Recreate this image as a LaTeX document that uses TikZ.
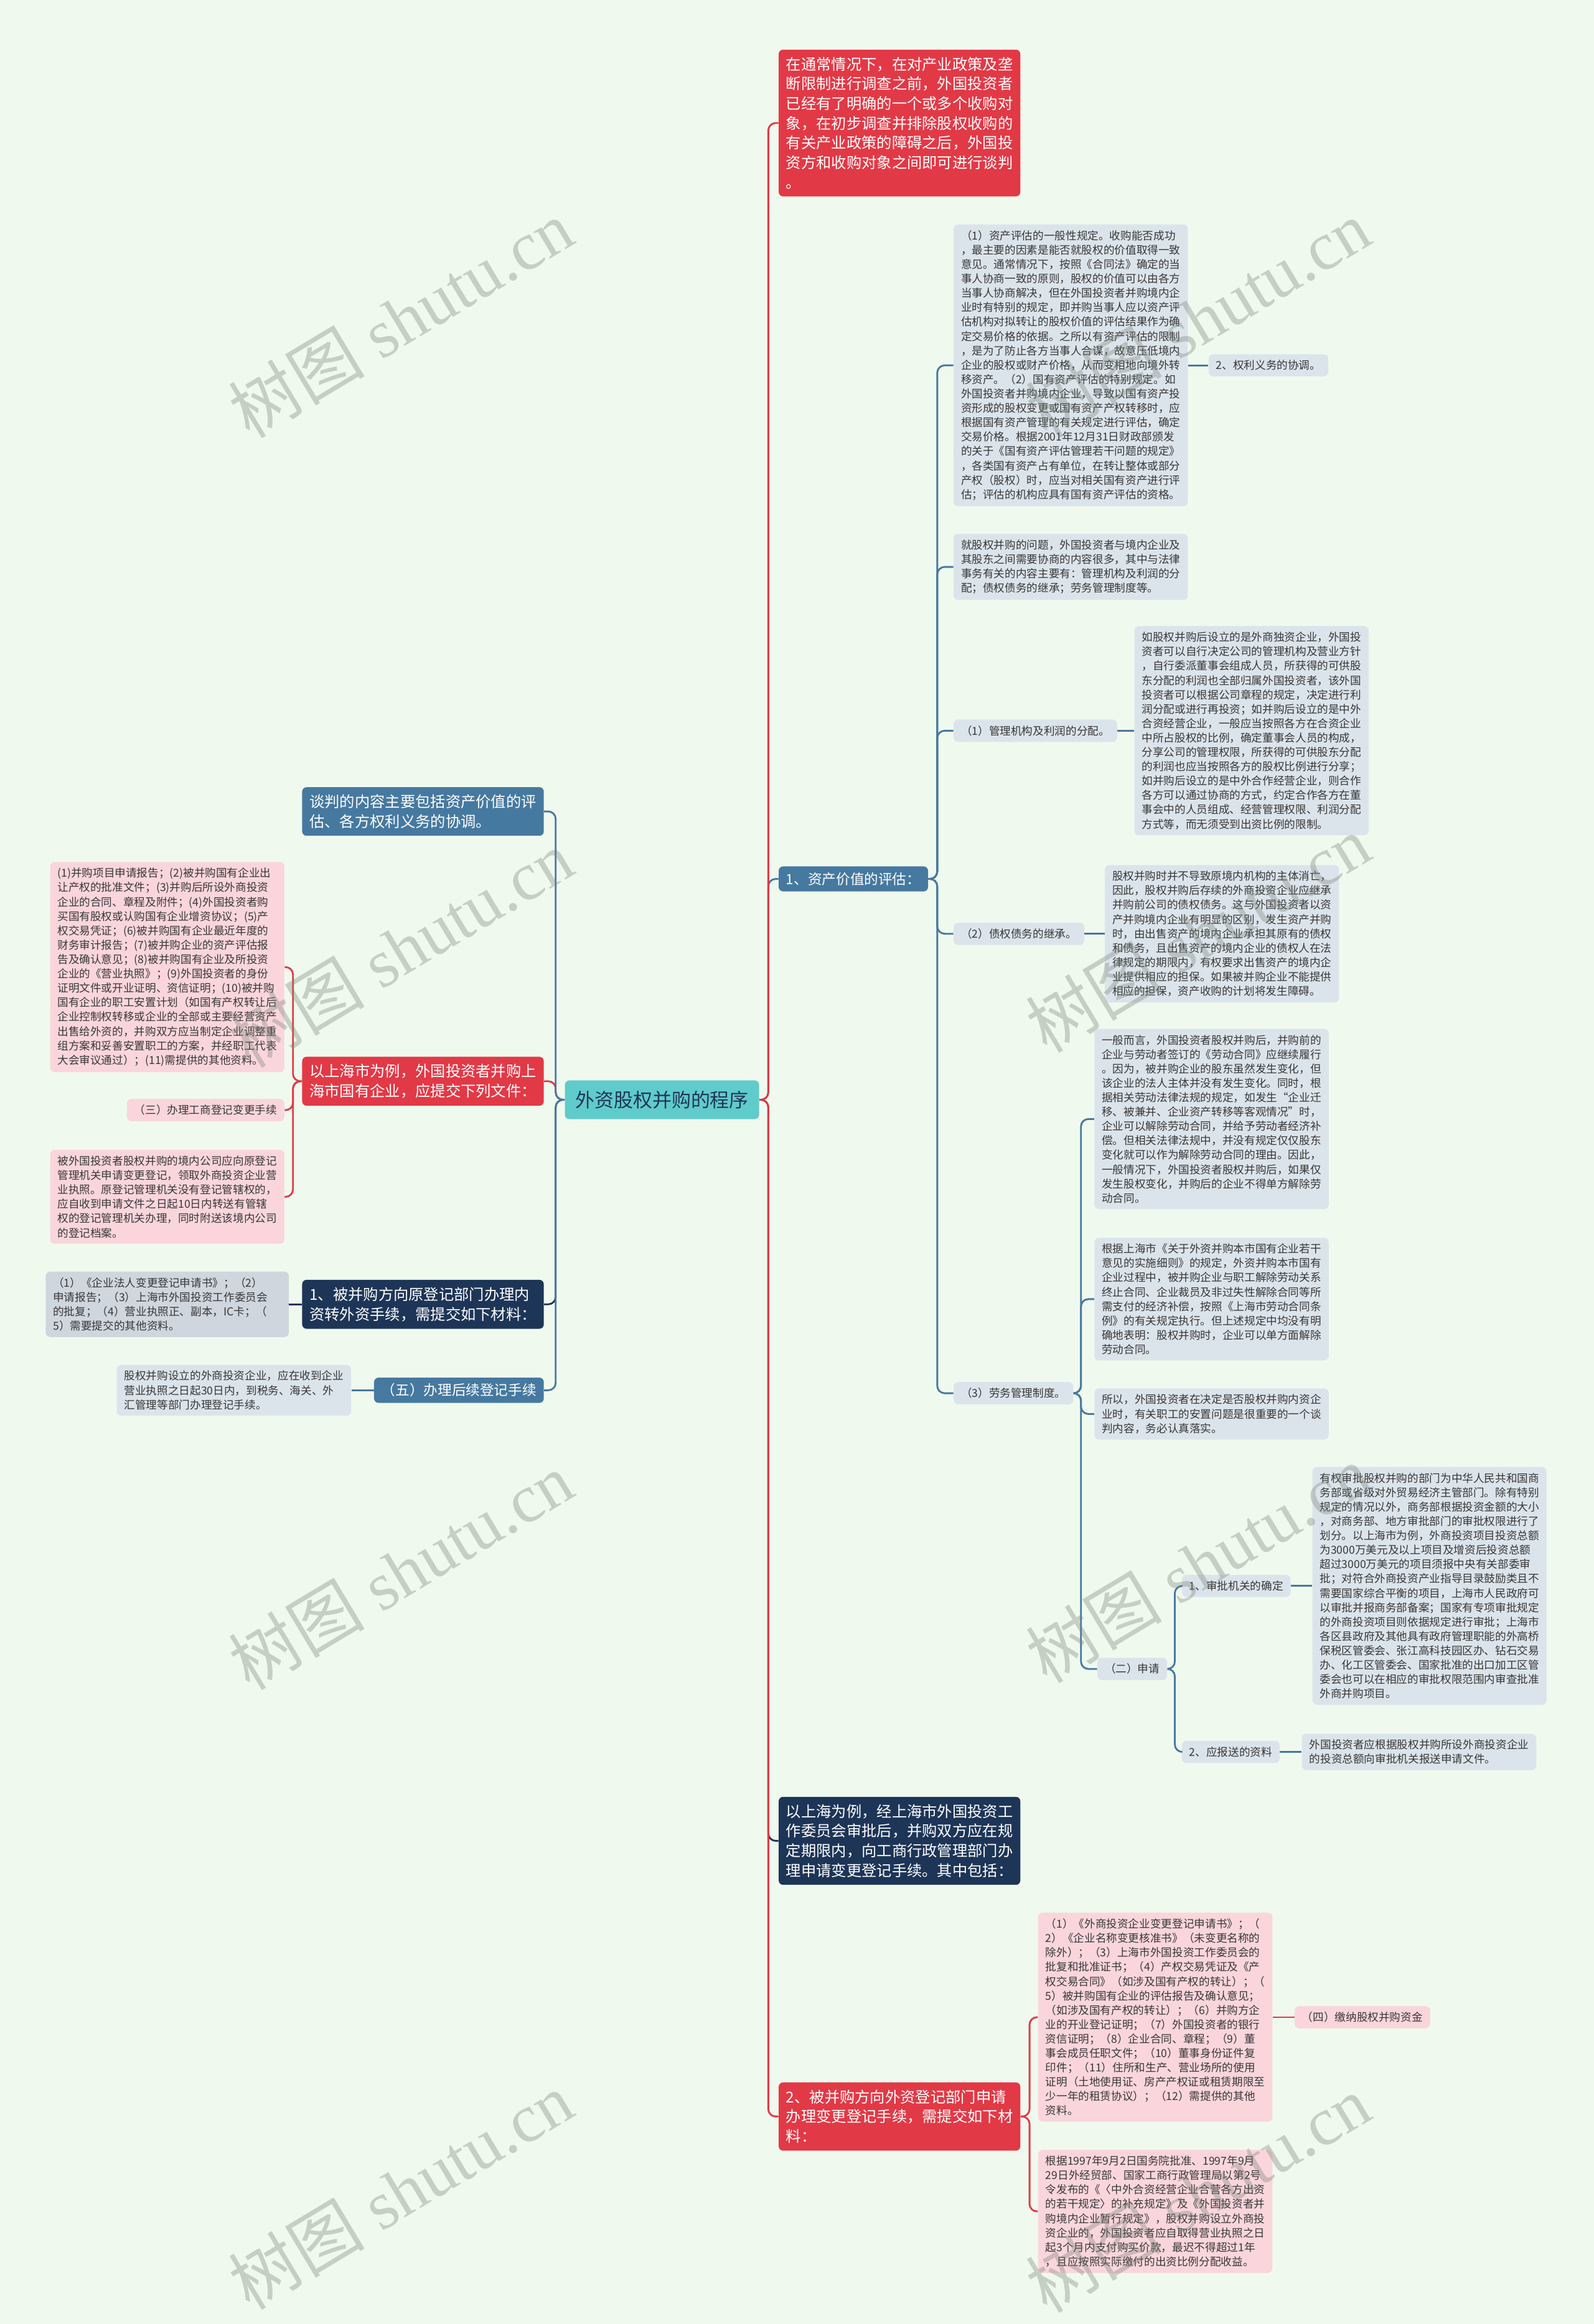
\documentclass[tikz,border=0pt]{standalone}
\usepackage{fontspec}
\setmainfont{Noto Sans CJK SC}
\newfontfamily\wmfont{Liberation Serif}
\newfontfamily\wmcjkfont{Noto Sans CJK SC}
\definecolor{bg}{RGB}{240,249,238}
\definecolor{cred}{RGB}{226,57,70}
\definecolor{cblue}{RGB}{70,121,160}
\definecolor{cnavy}{RGB}{29,53,87}
\definecolor{cteal}{RGB}{96,203,203}
\definecolor{gfill}{RGB}{220,228,235}
\definecolor{dfill}{RGB}{208,214,222}
\definecolor{pfill}{RGB}{250,214,220}
\definecolor{txt}{RGB}{55,55,55}
\definecolor{wm}{RGB}{120,130,120}
\begin{document}
\begin{tikzpicture}[x=1pt,y=-1pt,
 base/.style={rounded corners=3pt, inner xsep=5pt, inner ysep=4pt, align=left},
 sm/.style={base, font=\fontsize{7.4}{9.7}\selectfont, text=txt},
 gb/.style={sm, fill=gfill},
 db/.style={sm, fill=dfill},
 pb/.style={sm, fill=pfill},
 lg/.style={base, font=\fontsize{10.2}{13.3}\selectfont, text=white, inner ysep=5pt},
 md/.style={base, font=\fontsize{9.5}{12}\selectfont, text=white, inner ysep=4pt},
 link/.style={line width=1.2pt, rounded corners=5pt},
 wmark/.style={rotate=31, text=wm, opacity=0.35, font=\fontsize{46}{46}\wmfont}
]
\fill[bg] (0,0) rectangle (1075,1568);
\useasboundingbox (0,0) rectangle (1075,1568);

% root
\node[base, fill=cteal, text=cnavy, font=\fontsize{13}{15}\selectfont, inner xsep=7pt, inner ysep=7pt] (root) at (446.5,742) {外资股权并购的程序};

% right main branches
\node[lg, fill=cred, anchor=west] (r1) at (525,83) {在通常情况下，在对产业政策及垄\\断限制进行调查之前，外国投资者\\已经有了明确的一个或多个收购对\\象，在初步调查并排除股权收购的\\有关产业政策的障碍之后，外国投\\资方和收购对象之间即可进行谈判\\。};
\node[md, fill=cblue, anchor=west] (r2) at (525,593) {1、资产价值的评估：};
\node[lg, fill=cnavy, anchor=west] (r3) at (525,1242) {以上海为例，经上海市外国投资工\\作委员会审批后，并购双方应在规\\定期限内，向工商行政管理部门办\\理申请变更登记手续。其中包括：};
\node[lg, fill=cred, anchor=west] (r4) at (525,1428) {2、被并购方向外资登记部门申请\\办理变更登记手续，需提交如下材\\料：};

% asset evaluation branch
\node[gb, anchor=west] (a1) at (643,246.5) {（1）资产评估的一般性规定。收购能否成功\\，最主要的因素是能否就股权的价值取得一致\\意见。通常情况下，按照《合同法》确定的当\\事人协商一致的原则，股权的价值可以由各方\\当事人协商解决，但在外国投资者并购境内企\\业时有特别的规定，即并购当事人应以资产评\\估机构对拟转让的股权价值的评估结果作为确\\定交易价格的依据。之所以有资产评估的限制\\，是为了防止各方当事人合谋，故意压低境内\\企业的股权或财产价格，从而变相地向境外转\\移资产。（2）国有资产评估的特别规定。如\\外国投资者并购境内企业，导致以国有资产投\\资形成的股权变更或国有资产产权转移时，应\\根据国有资产管理的有关规定进行评估，确定\\交易价格。根据2001年12月31日财政部颁发\\的关于《国有资产评估管理若干问题的规定》\\，各类国有资产占有单位，在转让整体或部分\\产权（股权）时，应当对相关国有资产进行评\\估；评估的机构应具有国有资产评估的资格。};
\node[gb, anchor=west] (a1r) at (815,246.5) {2、权利义务的协调。};
\node[gb, anchor=west] (a2) at (643,382.5) {就股权并购的问题，外国投资者与境内企业及\\其股东之间需要协商的内容很多，其中与法律\\事务有关的内容主要有：管理机构及利润的分\\配；债权债务的继承；劳务管理制度等。};
\node[gb, anchor=west] (a3) at (643,493) {（1）管理机构及利润的分配。};
\node[gb, anchor=west] (a3c) at (765,493) {如股权并购后设立的是外商独资企业，外国投\\资者可以自行决定公司的管理机构及营业方针\\，自行委派董事会组成人员，所获得的可供股\\东分配的利润也全部归属外国投资者，该外国\\投资者可以根据公司章程的规定，决定进行利\\润分配或进行再投资；如并购后设立的是中外\\合资经营企业，一般应当按照各方在合资企业\\中所占股权的比例，确定董事会人员的构成，\\分享公司的管理权限，所获得的可供股东分配\\的利润也应当按照各方的股权比例进行分享；\\如并购后设立的是中外合作经营企业，则合作\\各方可以通过协商的方式，约定合作各方在董\\事会中的人员组成、经营管理权限、利润分配\\方式等，而无须受到出资比例的限制。};
\node[gb, anchor=west] (a4) at (643,630) {（2）债权债务的继承。};
\node[gb, anchor=west] (a4c) at (745,630) {股权并购时并不导致原境内机构的主体消亡，\\因此，股权并购后存续的外商投资企业应继承\\并购前公司的债权债务。这与外国投资者以资\\产并购境内企业有明显的区别，发生资产并购\\时，由出售资产的境内企业承担其原有的债权\\和债务，且出售资产的境内企业的债权人在法\\律规定的期限内，有权要求出售资产的境内企\\业提供相应的担保。如果被并购企业不能提供\\相应的担保，资产收购的计划将发生障碍。};
\node[gb, anchor=west] (a5) at (643,940) {（3）劳务管理制度。};
\node[gb, anchor=west] (c1) at (738,755) {一般而言，外国投资者股权并购后，并购前的\\企业与劳动者签订的《劳动合同》应继续履行\\。因为，被并购企业的股东虽然发生变化，但\\该企业的法人主体并没有发生变化。同时，根\\据相关劳动法律法规的规定，如发生“企业迁\\移、被兼并、企业资产转移等客观情况”时，\\企业可以解除劳动合同，并给予劳动者经济补\\偿。但相关法律法规中，并没有规定仅仅股东\\变化就可以作为解除劳动合同的理由。因此，\\一般情况下，外国投资者股权并购后，如果仅\\发生股权变化，并购后的企业不得单方解除劳\\动合同。};
\node[gb, anchor=west] (c2) at (738,876.5) {根据上海市《关于外资并购本市国有企业若干\\意见的实施细则》的规定，外资并购本市国有\\企业过程中，被并购企业与职工解除劳动关系\\终止合同、企业裁员及非过失性解除合同等所\\需支付的经济补偿，按照《上海市劳动合同条\\例》的有关规定执行。但上述规定中均没有明\\确地表明：股权并购时，企业可以单方面解除\\劳动合同。};
\node[gb, anchor=west] (c3) at (738,954) {所以，外国投资者在决定是否股权并购内资企\\业时，有关职工的安置问题是很重要的一个谈\\判内容，务必认真落实。};
\node[gb, anchor=west] (c4) at (740,1126) {（二）申请};
\node[gb, anchor=west] (d1) at (797,1070) {1、审批机关的确定};
\node[gb, anchor=west] (d1c) at (885,1070) {有权审批股权并购的部门为中华人民共和国商\\务部或省级对外贸易经济主管部门。除有特别\\规定的情况以外，商务部根据投资金额的大小\\，对商务部、地方审批部门的审批权限进行了\\划分。以上海市为例，外商投资项目投资总额\\为3000万美元及以上项目及增资后投资总额\\超过3000万美元的项目须报中央有关部委审\\批；对符合外商投资产业指导目录鼓励类且不\\需要国家综合平衡的项目，上海市人民政府可\\以审批并报商务部备案；国家有专项审批规定\\的外商投资项目则依据规定进行审批；上海市\\各区县政府及其他具有政府管理职能的外高桥\\保税区管委会、张江高科技园区办、钻石交易\\办、化工区管委会、国家批准的出口加工区管\\委会也可以在相应的审批权限范围内审查批准\\外商并购项目。};
\node[gb, anchor=west] (d2) at (797,1182) {2、应报送的资料};
\node[gb, anchor=west] (d2c) at (878,1182) {外国投资者应根据股权并购所设外商投资企业\\的投资总额向审批机关报送申请文件。};

% registration branch
\node[pb, anchor=west] (e1) at (700,1361) {（1）《外商投资企业变更登记申请书》；（\\2）《企业名称变更核准书》（未变更名称的\\除外）；（3）上海市外国投资工作委员会的\\批复和批准证书；（4）产权交易凭证及《产\\权交易合同》（如涉及国有产权的转让）；（\\5）被并购国有企业的评估报告及确认意见；\\（如涉及国有产权的转让）；（6）并购方企\\业的开业登记证明；（7）外国投资者的银行\\资信证明；（8）企业合同、章程；（9）董\\事会成员任职文件；（10）董事身份证件复\\印件；（11）住所和生产、营业场所的使用\\证明（土地使用证、房产产权证或租赁期限至\\少一年的租赁协议）；（12）需提供的其他\\资料。};
\node[pb, anchor=west] (e1r) at (873,1361) {（四）缴纳股权并购资金};
\node[pb, anchor=west] (e2) at (700,1492) {根据1997年9月2日国务院批准、1997年9月\\29日外经贸部、国家工商行政管理局以第2号\\令发布的《〈中外合资经营企业合营各方出资\\的若干规定〉的补充规定》及《外国投资者并\\购境内企业暂行规定》，股权并购设立外商投\\资企业的，外国投资者应自取得营业执照之日\\起3个月内支付购买价款，最迟不得超过1年\\，且应按照实际缴付的出资比例分配收益。};

% left side
\node[lg, fill=cblue, anchor=east] (l1) at (367,547.5) {谈判的内容主要包括资产价值的评\\估、各方权利义务的协调。};
\node[lg, fill=cred, anchor=east] (l2) at (367,729.5) {以上海市为例，外国投资者并购上\\海市国有企业，应提交下列文件：};
\node[pb, anchor=east] (l2a) at (192,652.5) {(1)并购项目申请报告；(2)被并购国有企业出\\让产权的批准文件；(3)并购后所设外商投资\\企业的合同、章程及附件；(4)外国投资者购\\买国有股权或认购国有企业增资协议；(5)产\\权交易凭证；(6)被并购国有企业最近年度的\\财务审计报告；(7)被并购企业的资产评估报\\告及确认意见；(8)被并购国有企业及所投资\\企业的《营业执照》；(9)外国投资者的身份\\证明文件或开业证明、资信证明；(10)被并购\\国有企业的职工安置计划（如国有产权转让后\\企业控制权转移或企业的全部或主要经营资产\\出售给外资的，并购双方应当制定企业调整重\\组方案和妥善安置职工的方案，并经职工代表\\大会审议通过）；(11)需提供的其他资料。};
\node[pb, anchor=east] (l2b) at (192,749) {（三）办理工商登记变更手续};
\node[pb, anchor=east] (l2c) at (192,807.5) {被外国投资者股权并购的境内公司应向原登记\\管理机关申请变更登记，领取外商投资企业营\\业执照。原登记管理机关没有登记管辖权的，\\应自收到申请文件之日起10日内转送有管辖\\权的登记管理机关办理，同时附送该境内公司\\的登记档案。};
\node[lg, fill=cnavy, anchor=east] (l3) at (367,880) {1、被并购方向原登记部门办理内\\资转外资手续，需提交如下材料：};
\node[db, anchor=east, text width=154pt] (l3a) at (195,880) {（1）《企业法人变更登记申请书》；（2）\\申请报告；（3）上海市外国投资工作委员会\\的批复；（4）营业执照正、副本，IC卡；（\\5）需要提交的其他资料。};
\node[md, fill=cblue, anchor=east] (l4) at (367,938) {（五）办理后续登记手续};
\node[gb, anchor=east] (l4a) at (237,938) {股权并购设立的外商投资企业，应在收到企业\\营业执照之日起30日内，到税务、海关、外\\汇管理等部门办理登记手续。};

% connectors right
\draw[link, cnavy] (root.east) -- ++(6,0) |- (r3.west);
\draw[link, cred] (root.east) -- ++(6,0) |- (r4.west);
\draw[link, cblue] (root.east) -- ++(6,0) |- (r2.west);
\draw[link, cred] (root.east) -- ++(6,0) |- (r1.west);
\foreach \t in {a1,a2,a3,a4,a5} \draw[link, cblue] (r2.east) -- ++(6,0) |- (\t.west);
\draw[link, cblue] (a1.east) -- (a1r.west);
\draw[link, cblue] (a3.east) -- (a3c.west);
\draw[link, cblue] (a4.east) -- (a4c.west);
\foreach \t in {c1,c2,c3,c4} \draw[link, cblue] (a5.east) -- ++(5,0) |- (\t.west);
\foreach \t in {d1,d2} \draw[link, cblue] (c4.east) -- ++(5,0) |- (\t.west);
\draw[link, cblue] (d1.east) -- (d1c.west);
\draw[link, cblue] (d2.east) -- (d2c.west);
\foreach \t in {e1,e2} \draw[link, cred] (r4.east) -- ++(6,0) |- (\t.west);
\draw[link, cred] (e1.east) -- (e1r.west);

% connectors left
\draw[link, cred] (root.west) -- ++(-6,0) |- (l2.east);
\draw[link, cnavy] (root.west) -- ++(-6,0) |- (l3.east);
\draw[link, cblue] (root.west) -- ++(-6,0) |- (l1.east);
\draw[link, cblue] (root.west) -- ++(-6,0) |- (l4.east);
\foreach \t in {l2a,l2b,l2c} \draw[link, cred] (l2.west) -- ++(-6,0) |- (\t.east);
\draw[link, cnavy] (l3.west) -- (l3a.east);
\draw[link, cblue] (l4.west) -- (l4a.east);

% watermarks
\foreach \x/\y [count=\i] in {270/215, 808/215, 270/640, 808/630, 270/1060, 808/1055, 270/1478, 808/1480}
  \node[wmark] (wm\i) at (\x,\y) {{\wmcjkfont 树图} shutu.cn};
\end{tikzpicture}
\end{document}
